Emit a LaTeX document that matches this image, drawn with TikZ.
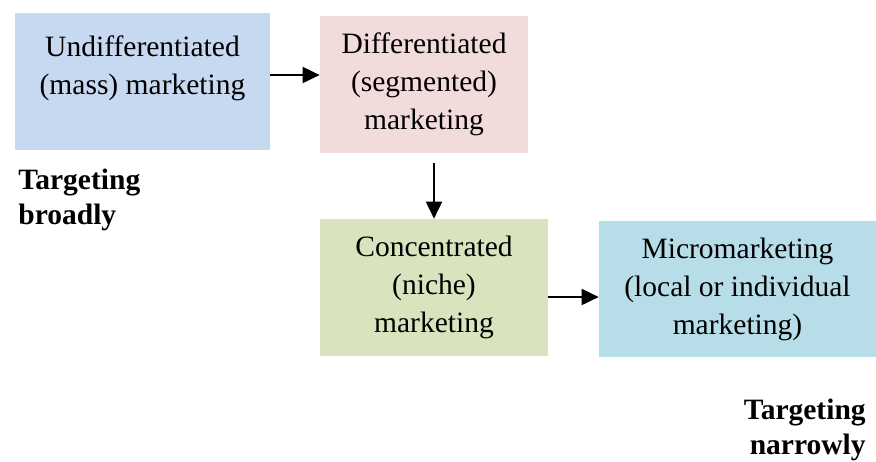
\documentclass[tikz,border=0pt]{standalone}
\usepackage{fontspec}
\setmainfont{Liberation Serif}
\usetikzlibrary{arrows.meta}
\definecolor{massblue}{RGB}{198,217,240}
\definecolor{segpink}{RGB}{242,220,219}
\definecolor{nichegreen}{RGB}{215,228,189}
\definecolor{microblue}{RGB}{183,221,232}

\begin{document}
\begin{tikzpicture}[x=0.02cm, y=-0.02cm,
    stagebox/.style={inner sep=0pt, align=center,
      font=\fontsize{16.8}{21.6}\selectfont},
    flow/.style={-{Triangle[length=3.4mm,width=3.2mm]}, line width=1.1pt},
    scopelabel/.style={inner sep=0pt, font=\fontsize{16.8}{19.9}\selectfont\bfseries}]
  \useasboundingbox (0,0) rectangle (876,461);

  % the four targeting stages
  \node[stagebox, fill=massblue, minimum width=255*0.02cm, minimum height=137*0.02cm]
    (mass) at (142.5,81.5) {Undifferentiated\\(mass) marketing\\[-3.4pt]\mbox{}};
  \node[stagebox, fill=segpink, minimum width=208*0.02cm, minimum height=137*0.02cm]
    (segmented) at (424,84.5) {Differentiated\\(segmented)\\marketing};
  \node[stagebox, fill=nichegreen, minimum width=228*0.02cm, minimum height=137*0.02cm]
    (niche) at (434,287.5) {Concentrated\\(niche)\\marketing};
  \node[stagebox, fill=microblue, minimum width=277*0.02cm, minimum height=136*0.02cm]
    (micro) at (737.5,289) {Micromarketing\\(local or individual\\marketing)};

  % arrows between stages
  \draw[flow] (mass.east |- 0,75) -- (segmented.west |- 0,75);
  \draw[flow] (niche.north |- 0,163) -- (niche.north);
  \draw[flow] (niche.east |- 0,297) -- (micro.west |- 0,297);

  % ends of the scale
  \node[scopelabel, anchor=west, align=left] (broad) at (18,200) {Targeting\\broadly};
  \node[scopelabel, anchor=east, align=right] (narrow) at (866,430) {Targeting\\narrowly};
\end{tikzpicture}
\end{document}
